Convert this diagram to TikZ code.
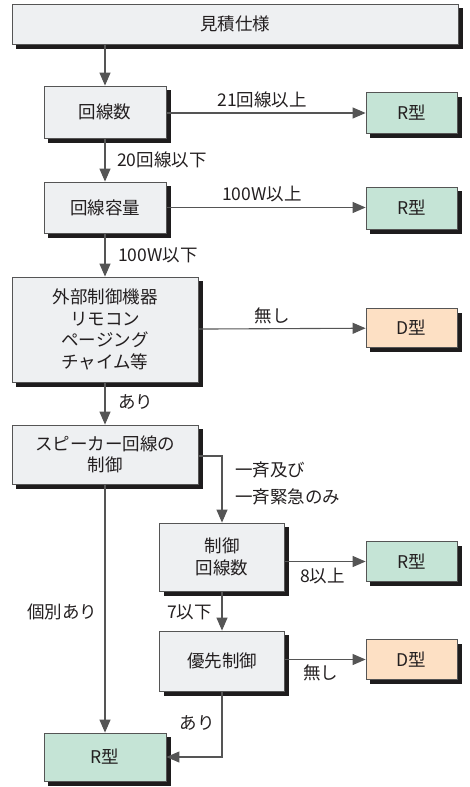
\documentclass[tikz,border=0pt]{standalone}
\usepackage{fontspec}
\newfontfamily\jp{Noto Sans CJK JP}
\usetikzlibrary{arrows.meta,backgrounds}
\definecolor{boxgray}{HTML}{EEF0F2}
\definecolor{boxgreen}{HTML}{C5E4D6}
\definecolor{boxorange}{HTML}{FDE0C4}
\definecolor{txt}{HTML}{231F20}
\definecolor{ln}{HTML}{555555}
\definecolor{shad}{HTML}{1E1C1D}
\tikzset{
  box/.style={draw=ln, line width=0.8pt, text=txt, align=center,
    inner sep=0pt, font=\jp\fontsize{17.5}{21.5}\selectfont},
  gbox/.style={box, fill=boxgray},
  rbox/.style={box, fill=boxgreen, minimum width=91pt},
  dbox/.style={box, fill=boxorange, minimum width=91pt},
  lbl/.style={text=txt, inner sep=0pt, font=\jp\fontsize{17.5}{27}\selectfont},
  conn/.style={draw=ln, line width=1.1pt, -{Triangle[length=13pt,width=11pt]}},
  shadowfill/.style={fill=shad},
}
\newcommand\shadowof[1]{\fill[shadowfill] ([shift={(4.5,4.5)}]#1.north west) rectangle ([shift={(4.5,4.5)}]#1.south east);}
\begin{document}
\begin{tikzpicture}[x=1pt,y=-1pt]
\useasboundingbox (0,0) rectangle (470,787);
% boxes
\node[gbox, minimum width=446pt, minimum height=40pt] (top) at (235,24) {見積仕様};
\node[gbox, minimum width=122pt, minimum height=52pt] (n1) at (105,112) {回線数};
\node[rbox, minimum height=41pt] (r1) at (411.5,113) {R型};
\node[gbox, minimum width=122pt, minimum height=51pt] (n2) at (105,207.5) {回線容量};
\node[rbox, minimum height=42pt] (r2) at (411.5,208) {R型};
\node[gbox, minimum width=186pt, minimum height=105pt] (n3) at (105,329.5) {外部制御機器\\リモコン\\ページング\\チャイム等};
\node[dbox, minimum height=39pt] (d1) at (411.5,328) {D型};
\node[gbox, minimum width=186pt, minimum height=59pt] (n4) at (105,454.5) {スピーカー回線の\\制御};
\node[gbox, minimum width=125pt, minimum height=68pt] (n5) at (222,557) {制御\\回線数};
\node[rbox, minimum height=40pt] (r3) at (411.5,561.5) {R型};
\node[gbox, minimum width=125pt, minimum height=60pt] (n6) at (222,661) {優先制御};
\node[dbox, minimum height=40pt] (d2) at (411.5,659.5) {D型};
\node[rbox, minimum width=122pt, minimum height=48pt] (r4) at (105,757) {R型};
\begin{scope}[on background layer]
\shadowof{top}\shadowof{n1}\shadowof{r1}\shadowof{n2}\shadowof{r2}
\shadowof{n3}\shadowof{d1}\shadowof{n4}\shadowof{n5}\shadowof{r3}
\shadowof{n6}\shadowof{d2}\shadowof{r4}
\end{scope}
% connectors
\draw[conn] (top.south -| n1) -- (n1);
\draw[conn] (n1.east |- r1.west) -- (r1.west);
\draw[conn] (n1) -- (n2);
\draw[conn] (n2.east) -- (r2.west |- n2.east);
\draw[conn] (n2) -- (n3);
\draw[conn] (n3) -- (d1);
\draw[conn] ([yshift=-1.5pt]n4.east) -| (n5.north);
\draw[conn] (n3) -- (n4);
\draw[conn] (n5.east |- r3.west) -- (r3.west);
\draw[conn] (n5) -- (n6);
\draw[conn] (n6.east |- d2.west) -- (d2.west);
\draw[conn] (n4) -- (r4);
\draw[conn] (n6.south) |- (r4.east);
% labels
\node[lbl] (l1) at (262,100) {21回線以上};
\node[lbl, anchor=west] (l2) at (117,160) {20回線以下};
\node[lbl] (l3) at (262,194) {100W以上};
\node[lbl, anchor=west] (l4) at (118,255) {100W以下};
\node[lbl] (l5) at (272,316) {無し};
\node[lbl, anchor=west] (l6) at (118,402) {あり};
\node[lbl, anchor=west, align=left] (l7) at (235,483.5) {一斉及び\\一斉緊急のみ};
\node[lbl, anchor=west] (l8) at (300,576) {8以上};
\node[lbl, anchor=east] (l9) at (212,612) {7以下};
\node[lbl, anchor=west] (l10) at (303,673) {無し};
\node[lbl, anchor=west] (l11) at (27,612) {個別あり};
\node[lbl] (l12) at (197,723) {あり};
\end{tikzpicture}
\end{document}
